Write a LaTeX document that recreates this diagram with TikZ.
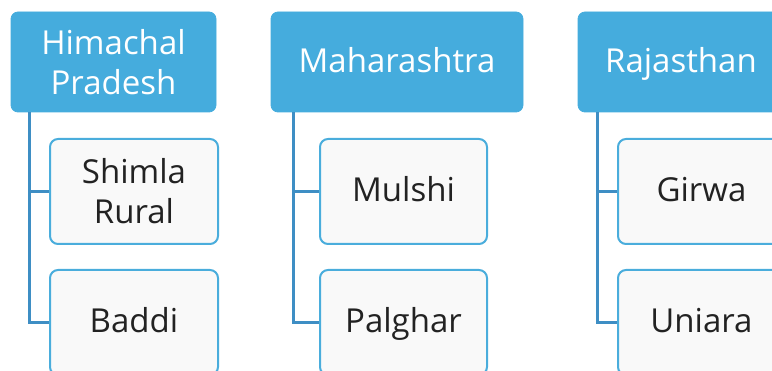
\documentclass[tikz,border=0pt]{standalone}
\usepackage{fontspec}
\setmainfont{Open Sans}
\definecolor{headblue}{RGB}{69,172,221}
\definecolor{edgeblue}{RGB}{74,173,220}
\definecolor{linkblue}{RGB}{62,142,196}
\definecolor{leaffill}{RGB}{249,249,249}
\definecolor{inkgray}{RGB}{34,34,34}
\begin{document}
\begin{tikzpicture}[x=1pt,y=-1pt,
  statebox/.style={rectangle, rounded corners=7pt, fill=headblue, draw=headblue,
    line width=0.8pt, text=white, align=center, minimum height=100pt,
    inner sep=0pt, font=\fontsize{33}{40}\selectfont},
  leafbox/.style={rectangle, rounded corners=8pt, fill=leaffill, draw=edgeblue,
    line width=2pt, text=inkgray, align=center, minimum width=167pt,
    minimum height=105pt, inner sep=0pt, font=\fontsize{33}{40}\selectfont},
  oneline/.style={text height=24pt, text depth=3pt},
  link/.style={draw=linkblue, line width=2.5pt}]
\useasboundingbox (0,0) rectangle (772,371);

% state headers
\node[statebox, minimum width=205pt] (hp) at (113.5,62) {Himachal\\Pradesh};
\node[statebox, oneline, minimum width=252pt] (mh) at (397,62) {Maharashtra};
\node[statebox, oneline, minimum width=206pt] (rj) at (681,62) {Rajasthan};

% districts
\node[leafbox, minimum width=168pt] (shimla) at (134,191.5) {Shimla\\Rural};
\node[leafbox, oneline, minimum width=168pt] (baddi) at (134,322.5) {Baddi};
\node[leafbox, oneline] (mulshi) at (403.5,191.5) {Mulshi};
\node[leafbox, oneline] (palghar) at (403.5,322.5) {Palghar};
\node[leafbox, oneline] (girwa) at (701.5,191.5) {Girwa};
\node[leafbox, oneline] (uniara) at (701.5,322.5) {Uniara};

% tree connectors
\coordinate (hpstem) at ([xshift=19pt]hp.south west);
\coordinate (mhstem) at ([xshift=23pt]mh.south west);
\coordinate (rjstem) at ([xshift=20pt]rj.south west);
\draw[link] (hpstem) |- (shimla.west);
\draw[link] (hpstem) |- (baddi.west);
\draw[link] (mhstem) |- (mulshi.west);
\draw[link] (mhstem) |- (palghar.west);
\draw[link] (rjstem) |- (girwa.west);
\draw[link] (rjstem) |- (uniara.west);
\end{tikzpicture}
\end{document}
